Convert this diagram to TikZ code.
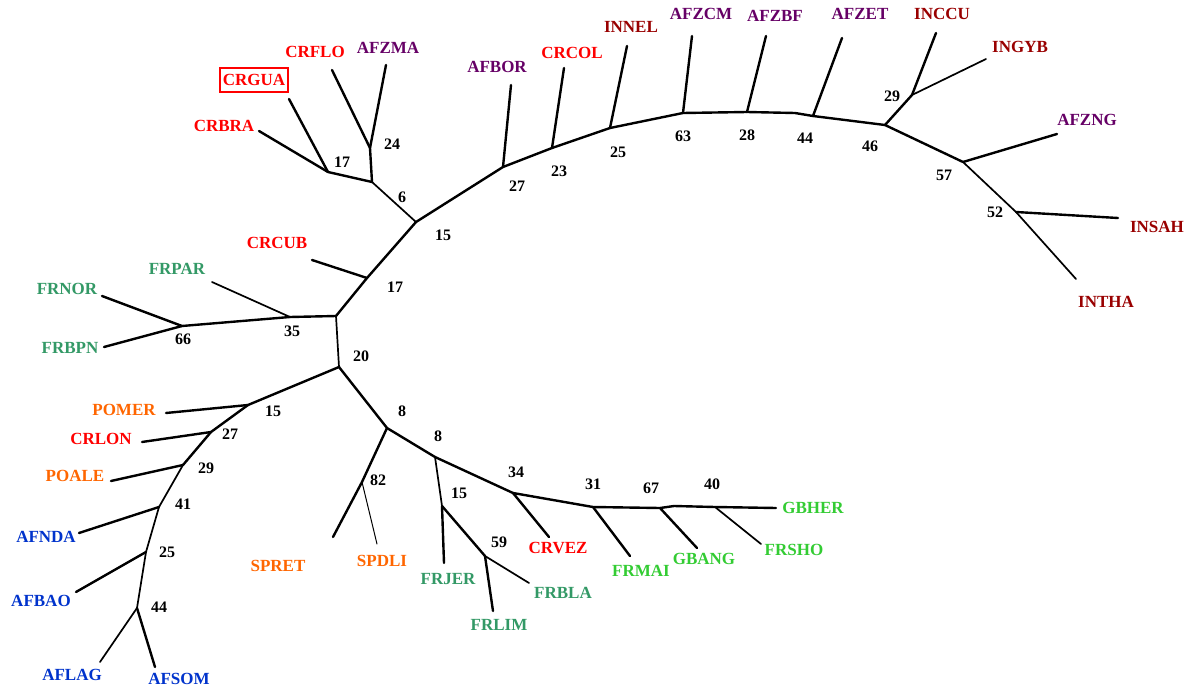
\documentclass[tikz,border=0pt]{standalone}
\usepackage{fontspec}
\setmainfont{Liberation Serif}
\definecolor{crred}{HTML}{FF0000}
\definecolor{afpurple}{HTML}{660066}
\definecolor{inmaroon}{HTML}{990000}
\definecolor{frteal}{HTML}{339966}
\definecolor{gbgreen}{HTML}{33CC33}
\definecolor{poorange}{HTML}{FF6600}
\definecolor{afblue}{HTML}{0033CC}
\tikzset{
  br/.style={line width=2.4pt, line cap=round, line join=round},
  brthin/.style={line width=1.7pt, line cap=round},
  brhair/.style={line width=1pt, line cap=round},
  lab/.style={font=\fontsize{17}{17}\selectfont\bfseries, inner sep=0pt, anchor=center},
  num/.style={font=\fontsize{16}{16}\selectfont\bfseries, inner sep=0pt, anchor=center, text=black},
}
\begin{document}
\begin{tikzpicture}[x=1pt,y=-1pt]
\useasboundingbox[fill=white] (0,0) rectangle (1195,690);

% internal vertices
\coordinate (n17a) at (328,172);
\coordinate (n24)  at (370,148);
\coordinate (n6)   at (372,182);
\coordinate (n15)  at (416,222);
\coordinate (nBOR) at (503,167);
\coordinate (nCOL) at (552,148);
\coordinate (nNEL) at (610,128);
\coordinate (nZCM) at (683,113);
\coordinate (nZBF) at (747,112);
\coordinate (nstp) at (795,113);
\coordinate (nZET) at (813,116);
\coordinate (n46)  at (885,125);
\coordinate (n29)  at (912,95);
\coordinate (n57)  at (963,162);
\coordinate (n52)  at (1016,212);
\coordinate (n17b) at (367,278);
\coordinate (n20t) at (336,316);
\coordinate (n35)  at (290,317);
\coordinate (n66)  at (182,326);
\coordinate (n20)  at (339,367);
\coordinate (n15b) at (248,405);
\coordinate (n27)  at (211,432);
\coordinate (n29b) at (183,465);
\coordinate (n41)  at (159,507);
\coordinate (n25)  at (146,552);
\coordinate (n44)  at (137,608);
\coordinate (n8a)  at (387,428);
\coordinate (n82)  at (362,482);
\coordinate (n8b)  at (435,457);
\coordinate (n15c) at (442,506);
\coordinate (n59)  at (485,556);
\coordinate (n34)  at (513,493);
\coordinate (n31)  at (593,507);
\coordinate (n67)  at (660,508);
\coordinate (nstq) at (674,506);
\coordinate (n40)  at (715,507);

% leaf ends
\coordinate (tGUA) at (289,99);
\coordinate (tBRA) at (259,131);
\coordinate (tFLO) at (332,70);
\coordinate (tZMA) at (386,65);
\coordinate (tBOR) at (511,85);
\coordinate (tCOL) at (564,68);
\coordinate (tNEL) at (627,46);
\coordinate (tZCM) at (692,36);
\coordinate (tZBF) at (766,36);
\coordinate (tZET) at (842,38);
\coordinate (tCCU) at (936,33);
\coordinate (tGYB) at (986,59);
\coordinate (tZNG) at (1057,134);
\coordinate (tSAH) at (1118,218);
\coordinate (tTHA) at (1076,279);
\coordinate (tCUB) at (312,260);
\coordinate (tPAR) at (212,282);
\coordinate (tNOR) at (102,296);
\coordinate (tBPN) at (104,347);
\coordinate (tMER) at (166,413);
\coordinate (tLON) at (142,442);
\coordinate (tALE) at (111,481);
\coordinate (tNDA) at (79,533);
\coordinate (tBAO) at (76,592);
\coordinate (tLAG) at (100,662);
\coordinate (tSOM) at (155,667);
\coordinate (tRET) at (333,537);
\coordinate (tDLI) at (377,544);
\coordinate (tJER) at (444,563);
\coordinate (tLIM) at (493,611);
\coordinate (tBLA) at (529,583);
\coordinate (tVEZ) at (549,537);
\coordinate (tMAI) at (630,556);
\coordinate (tANG) at (697,548);
\coordinate (tSHO) at (761,544);
\coordinate (tHER) at (776,508);

% upper clade
\draw[br] (tGUA) -- (n17a);
\draw[br] (tBRA) -- (n17a);
\draw[br] (n17a) -- (n6);
\draw[br] (tFLO) -- (n24);
\draw[br] (tZMA) -- (n24);
\draw[br] (n24) -- (n6);
\draw[brthin] (n6) -- (n15);
\draw[br] (n15) -- (nBOR) -- (nCOL) -- (nNEL) -- (nZCM) -- (nZBF) -- (nstp) -- (nZET) -- (n46);
\draw[br] (tBOR) -- (nBOR);
\draw[br] (tCOL) -- (nCOL);
\draw[br] (tNEL) -- (nNEL);
\draw[br] (tZCM) -- (nZCM);
\draw[br] (tZBF) -- (nZBF);
\draw[br] (tZET) -- (nZET);
\draw[br] (n46) -- (n29);
\draw[br] (n29) -- (tCCU);
\draw[brthin] (n29) -- (tGYB);
\draw[br] (n46) -- (n57);
\draw[br] (n57) -- (tZNG);
\draw[brthin] (n57) -- (n52);
\draw[br] (n52) -- (tSAH);
\draw[brthin] (n52) -- (tTHA);

% middle clade
\draw[br] (n15) -- (n17b);
\draw[br] (tCUB) -- (n17b);
\draw[br] (n17b) -- (n20t);
\draw[br] (n20t) -- (n35);
\draw[brthin] (n35) -- (tPAR);
\draw[br] (n35) -- (n66);
\draw[br] (n66) -- (tNOR);
\draw[br] (n66) -- (tBPN);
\draw[brthin] (n20t) -- (n20);

% lower-left clade
\draw[br] (n20) -- (n15b);
\draw[br] (n15b) -- (tMER);
\draw[br] (n15b) -- (n27);
\draw[br] (n27) -- (tLON);
\draw[br] (n27) -- (n29b);
\draw[br] (n29b) -- (tALE);
\draw[brthin] (n29b) -- (n41);
\draw[br] (n41) -- (tNDA);
\draw[brthin] (n41) -- (n25);
\draw[br] (n25) -- (tBAO);
\draw[brthin] (n25) -- (n44);
\draw[brthin] (n44) -- (tLAG);
\draw[br] (n44) -- (tSOM);

% lower-right clade
\draw[br] (n20) -- (n8a);
\draw[br] (n8a) -- (n82);
\draw[br] (n82) -- (tRET);
\draw[brhair] (n82) -- (tDLI);
\draw[br] (n8a) -- (n8b);
\draw[brthin] (n8b) -- (n15c);
\draw[br] (n15c) -- (tJER);
\draw[br] (n15c) -- (n59);
\draw[br] (n59) -- (tLIM);
\draw[brthin] (n59) -- (tBLA);
\draw[br] (n8b) -- (n34);
\draw[br] (n34) -- (tVEZ);
\draw[br] (n34) -- (n31) -- (n67) -- (nstq) -- (n40) -- (tHER);
\draw[br] (n31) -- (tMAI);
\draw[br] (n67) -- (tANG);
\draw[brthin] (n40) -- (tSHO);

% leaf labels
\node[lab,text=crred,draw=crred,line width=1.5pt,inner xsep=3pt,minimum height=24pt] (lGUA) at (254,80) {CRGUA};
\node[lab,text=crred]    (lBRA) at (224,126) {CRBRA};
\node[lab,text=crred]    (lFLO) at (315,52)  {CRFLO};
\node[lab,text=afpurple] (lZMA) at (388,48)  {AFZMA};
\node[lab,text=afpurple] (lBOR) at (497,67)  {AFBOR};
\node[lab,text=crred]    (lCOL) at (572,53)  {CRCOL};
\node[lab,text=inmaroon] (lNEL) at (631,27)  {INNEL};
\node[lab,text=afpurple] (lZCM) at (701,14)  {AFZCM};
\node[lab,text=afpurple] (lZBF) at (775,16)  {AFZBF};
\node[lab,text=afpurple] (lZET) at (860,14)  {AFZET};
\node[lab,text=inmaroon] (lCCU) at (942,14)  {INCCU};
\node[lab,text=inmaroon] (lGYB) at (1020,47) {INGYB};
\node[lab,text=afpurple] (lZNG) at (1087,120) {AFZNG};
\node[lab,text=inmaroon] (lSAH) at (1157,227) {INSAH};
\node[lab,text=inmaroon] (lTHA) at (1106,302) {INTHA};
\node[lab,text=crred]    (lCUB) at (277,243) {CRCUB};
\node[lab,text=frteal]   (lPAR) at (177,269) {FRPAR};
\node[lab,text=frteal]   (lNOR) at (67,289)  {FRNOR};
\node[lab,text=frteal]   (lBPN) at (70,348)  {FRBPN};
\node[lab,text=poorange] (lMER) at (124,410) {POMER};
\node[lab,text=crred]    (lLON) at (101,439) {CRLON};
\node[lab,text=poorange] (lALE) at (75,476)  {POALE};
\node[lab,text=afblue]   (lNDA) at (46,537)  {AFNDA};
\node[lab,text=afblue]   (lBAO) at (41,601)  {AFBAO};
\node[lab,text=afblue]   (lLAG) at (72,675)  {AFLAG};
\node[lab,text=afblue]   (lSOM) at (179,679) {AFSOM};
\node[lab,text=poorange] (lRET) at (278,566) {SPRET};
\node[lab,text=poorange] (lDLI) at (382,561) {SPDLI};
\node[lab,text=frteal]   (lJER) at (448,579) {FRJER};
\node[lab,text=frteal]   (lLIM) at (499,625) {FRLIM};
\node[lab,text=frteal]   (lBLA) at (563,593) {FRBLA};
\node[lab,text=crred]    (lVEZ) at (558,548) {CRVEZ};
\node[lab,text=gbgreen]  (lMAI) at (641,571) {FRMAI};
\node[lab,text=gbgreen]  (lANG) at (704,559) {GBANG};
\node[lab,text=gbgreen]  (lSHO) at (794,550) {FRSHO};
\node[lab,text=gbgreen]  (lHER) at (813,508) {GBHER};

% bootstrap values
\node[num] (b17a) at (342,162) {17};
\node[num] (b24)  at (392,144) {24};
\node[num] (b6)   at (402,197) {6};
\node[num] (b15)  at (443,235) {15};
\node[num] (b27)  at (517,186) {27};
\node[num] (b23)  at (559,171) {23};
\node[num] (b25)  at (618,152) {25};
\node[num] (b63)  at (683,136) {63};
\node[num] (b28)  at (747,135) {28};
\node[num] (b44)  at (805,138) {44};
\node[num] (b46)  at (870,146) {46};
\node[num] (b29)  at (892,96)  {29};
\node[num] (b57)  at (944,175) {57};
\node[num] (b52)  at (995,212) {52};
\node[num] (b17b) at (395,287) {17};
\node[num] (b35)  at (292,331) {35};
\node[num] (b66)  at (183,339) {66};
\node[num] (b20)  at (361,356) {20};
\node[num] (b15b) at (273,411) {15};
\node[num] (b27b) at (230,434) {27};
\node[num] (b29b) at (206,468) {29};
\node[num] (b41)  at (183,504) {41};
\node[num] (b25b) at (167,552) {25};
\node[num] (b44b) at (159,607) {44};
\node[num] (b8a)  at (402,411) {8};
\node[num] (b8b)  at (438,436) {8};
\node[num] (b82)  at (378,480) {82};
\node[num] (b15c) at (459,493) {15};
\node[num] (b59)  at (499,542) {59};
\node[num] (b34)  at (516,472) {34};
\node[num] (b31)  at (593,484) {31};
\node[num] (b67)  at (651,488) {67};
\node[num] (b40)  at (712,484) {40};
\end{tikzpicture}
\end{document}
